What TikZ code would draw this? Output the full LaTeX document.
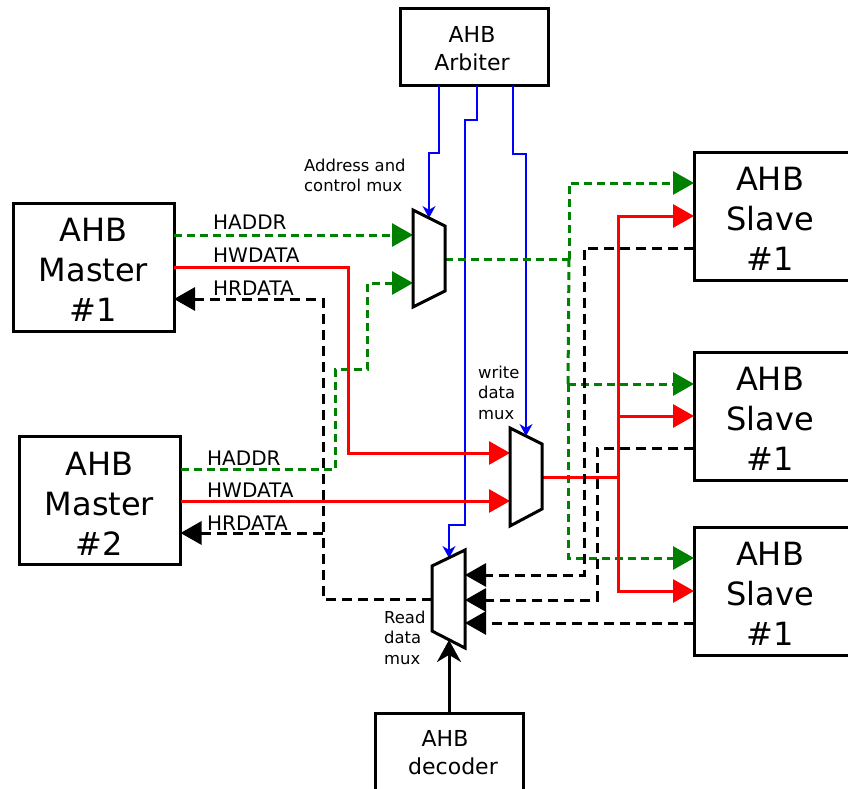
\documentclass[tikz,border=0pt]{standalone}
\usepackage{fontspec}
\setmainfont{DejaVu Sans}
\usetikzlibrary{arrows.meta}

\tikzset{
  ahbbox/.style={draw, line width=3pt, fill=white, inner sep=0pt, outer sep=0pt, minimum width=#1},
  bigbox/.style={ahbbox=161pt, minimum height=128pt},
  smallbox/.style={ahbbox=148pt},
  bigtext/.style={font=\fontsize{32}{40}\selectfont, align=center},
  smalltext/.style={font=\fontsize{22}{28}\selectfont, align=center},
  muxbox/.style={line width=3pt, line join=miter},
  greenbus/.style={line width=3pt, color=green!50!black, dash pattern=on 8pt off 5pt, -{Triangle[length=21pt,width=23pt,fill=green!50!black]}},
  greenwire/.style={line width=3pt, color=green!50!black, dash pattern=on 8pt off 5pt},
  redbus/.style={line width=3pt, color=red, -{Triangle[length=21pt,width=23pt]}},
  redwire/.style={line width=3pt, color=red},
  blackbus/.style={line width=3pt, dash pattern=on 10pt off 6pt, -{Triangle[length=21pt,width=23pt,fill=black]}},
  ctrlbus/.style={line width=1.5pt, color=blue, -{Stealth[length=12pt,width=13pt]}},
  signame/.style={font=\fontsize{20}{20}\selectfont, anchor=west, inner sep=0pt},
  muxname/.style={font=\fontsize{16.4}{20.5}\selectfont, anchor=west, align=left, inner sep=0pt}
}

\begin{document}
\begin{tikzpicture}[x=1pt,y=-1pt]
      \useasboundingbox (0,0) rectangle (848,789);

      % ports of the three muxes
      \coordinate (acmuxtop) at (429,218);
      \coordinate (acmuxa) at (413,235);
      \coordinate (acmuxb) at (413,283);
      \coordinate (acmuxout) at (445,259);
      \coordinate (wdmuxtop) at (526,436);
      \coordinate (wdmuxa) at (510,453);
      \coordinate (wdmuxb) at (510,501);
      \coordinate (wdmuxout) at (542,477);
      \coordinate (rdmuxtop) at (449,558);
      \coordinate (rdmuxa) at (465,575);
      \coordinate (rdmuxb) at (465,600);
      \coordinate (rdmuxc) at (465,623);
      \coordinate (rdmuxout) at (432,599);
      \coordinate (rdmuxbot) at (449,640);

      \node[smallbox, minimum height=77pt] (arbiter) at (474,47.5) {};
      \node[bigbox] (masterone) at (93.5,267) {};
      \node[bigbox] (mastertwo) at (100,500.5) {};
      \node[bigbox] (slaveone) at (774.5,216) {};
      \node[bigbox] (slavetwo) at (774.5,416) {};
      \node[bigbox] (slavethree) at (774.5,591) {};
      \node[smallbox, minimum height=100pt] (decoder) at (449,763) {};

      \node[smalltext] (arbitertext) at (472,48.5) {AHB\\Arbiter};
      \node[bigtext] (masteronetext) at (93.5,270) {AHB\\Master\\\#1};
      \node[bigtext] (mastertwotext) at (99.5,504) {AHB\\Master\\\#2};
      \node[bigtext] (slaveonetext) at (770,219) {AHB\\Slave\\\#1};
      \node[bigtext] (slavetwotext) at (770,419) {AHB\\Slave\\\#1};
      \node[bigtext] (slavethreetext) at (770,594) {AHB\\Slave\\\#1};
      \node[font=\fontsize{22}{22}\selectfont] (decodertop) at (445,738) {AHB};
      \node[font=\fontsize{22}{22}\selectfont] (decoderbot) at (453,766) {decoder};

      % control lines
      \draw[ctrlbus] (arbiter.south -| 439,0) |- (429,153) -- (acmuxtop);
      \draw[ctrlbus] (arbiter.south -| 477,0) |- (465,120) |- (449,525) -- (rdmuxtop);
      \draw[ctrlbus] (arbiter.south -| 513,0) |- (526,154) -- (wdmuxtop);

      % address
      \draw[greenbus] (masterone.east |- acmuxa) -- (acmuxa);
      \draw[greenbus] (mastertwo.east |- 0,469) -| (335,369) -| (367,283) -- (acmuxb);
      \draw[greenwire] (acmuxout) -- (569,259);
      \draw[greenbus] (569,259) |- (slaveone.west |- 0,183);
      \draw[greenwire] (569,259) -- (568,384);
      \draw[greenbus] (568,384) -- (slavetwo.west |- 0,384);
      \draw[greenbus] (568,384) |- (slavethree.west |- 0,558);

      % write data
      \draw[redbus] (masterone.east |- 0,267) -| (348,453) -- (wdmuxa);
      \draw[redbus] (mastertwo.east |- wdmuxb) -- (wdmuxb);
      \draw[redwire] (wdmuxout) -- (618,477);
      \draw[redbus] (618,477) |- (slaveone.west |- 0,216);
      \draw[redbus] (618,416) -- (slavetwo.west |- 0,416);
      \draw[redbus] (618,477) |- (slavethree.west |- 0,591);

      % read data
      \draw[blackbus] (slaveone.west |- 0,248) -| (584,575) -- (rdmuxa);
      \draw[blackbus] (slavetwo.west |- 0,448) -| (597,600) -- (rdmuxb);
      \draw[blackbus] (slavethree.west |- 0,623) -- (rdmuxc);
      \draw[blackbus] (rdmuxout) -| (323,299) -- (masterone.east |- 0,299);
      \draw[blackbus] (323,533) -- (mastertwo.east |- 0,533);
      \draw[line width=3pt, -{Stealth[length=22pt,width=24pt]}] (decoder.north -| rdmuxbot) -- (rdmuxbot);

      % the muxes go on top of the bus ends
      \draw[muxbox] (413,210) -- (445,226) -- (445,291) -- (413,307) -- cycle;
      \draw[muxbox] (510,428) -- (542,444) -- (542,509) -- (510,526) -- cycle;
      \draw[muxbox] (465,550) -- (432,566) -- (432,631) -- (465,648) -- cycle;

      \node[signame] (haddrone) at (213,222) {HADDR};
      \node[signame] (hwdataone) at (213,255) {HWDATA};
      \node[signame] (hrdataone) at (213,288) {HRDATA};
      \node[signame] (haddrtwo) at (207,458) {HADDR};
      \node[signame] (hwdatatwo) at (207,490) {HWDATA};
      \node[signame] (hrdatatwo) at (207,523) {HRDATA};

      \node[muxname] (acmuxname) at (304,175.5) {Address and\\control mux};
      \node[muxname] (wdmuxname) at (478,392.5) {write\\data\\mux};
      \node[muxname] (rdmuxname) at (384,637.5) {Read\\data\\mux};
\end{tikzpicture}
\end{document}
